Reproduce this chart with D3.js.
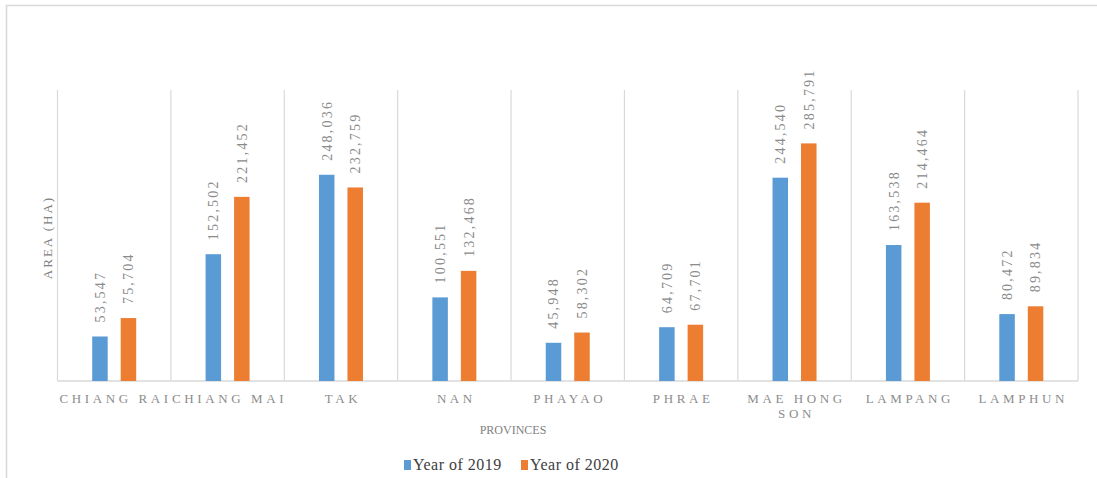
<!DOCTYPE html>
<html><head><meta charset="utf-8">
<script src="https://cdn.jsdelivr.net/npm/d3@7"></script>
<style>
html,body{margin:0;padding:0;background:#fff;}
svg{display:block;}
</style></head>
<body><svg id="chart" width="1097" height="478" font-family="'Liberation Serif','DejaVu Serif',serif"></svg>
<script>
const provinces = ["CHIANG RAI","CHIANG MAI","TAK","NAN","PHAYAO","PHRAE","MAE HONG SON","LAMPANG","LAMPHUN"];
const seriesNames = ["Year of 2019","Year of 2020"];
const values2019 = [53547,152502,248036,100551,45948,64709,244540,163538,80472];
const values2020 = [75704,221452,232759,132468,58302,67701,285791,214464,89834];
const yMax = 350000;
const colors = ["#5B9BD5","#ED7D31"];

const svg = d3.select("#chart");
const margin = {left:57.5, right:1078, top:90, bottom:381};

// outer frame
svg.append("path").attr("d","M6.5,480 L6.5,5.5 L1100,5.5")
  .attr("fill","none").attr("stroke","#d9d9d9").attr("stroke-width",1.6);

const x = d3.scaleBand().domain(provinces).range([margin.left, margin.right]).paddingInner(0).paddingOuter(0);
const x1 = d3.scaleBand().domain(seriesNames).range([0, x.bandwidth()]).paddingInner(0.456).paddingOuter(1.2175);
const y = d3.scaleLinear().domain([0, yMax]).range([margin.bottom, margin.top]);

// vertical category gridlines
const bounds = provinces.map(p => x(p)).concat([margin.right]);
svg.append("g").selectAll("line").data(bounds).join("line")
  .attr("x1", d => d).attr("x2", d => d)
  .attr("y1", y(yMax)).attr("y2", y(0))
  .attr("stroke","#d9d9d9").attr("stroke-width",1.2);

// bottom axis line
svg.append("line").attr("x1",margin.left).attr("x2",margin.right)
  .attr("y1",y(0)).attr("y2",y(0)).attr("stroke","#d9d9d9").attr("stroke-width",1.5);

const data = provinces.map((p,i) => ({p, vals:[values2019[i], values2020[i]]}));
const groups = svg.append("g").selectAll("g").data(data).join("g")
  .attr("transform", d => `translate(${x(d.p)},0)`);

groups.selectAll("rect").data(d => d.vals.map((v,j)=>({v, s:seriesNames[j], j})))
  .join("rect")
  .attr("x", d => x1(d.s)).attr("width", x1.bandwidth())
  .attr("y", d => y(d.v)).attr("height", d => y(0) - y(d.v))
  .attr("fill", d => colors[d.j]);

const fmt = d3.format(",");
groups.selectAll("text.lbl").data(d => d.vals.map((v,j)=>({v, s:seriesNames[j], j})))
  .join("text").attr("class","lbl")
  .attr("transform", d => `translate(${x1(d.s)+x1.bandwidth()/2},${y(d.v)-14}) rotate(-90)`)
  .attr("dy","0.35em")
  .attr("text-anchor","start")
  .attr("font-size",14).attr("letter-spacing",2.2)
  .attr("fill","#8a8a8a")
  .text(d => fmt(d.v));

// category labels
const catG = svg.append("g");
provinces.forEach((p,i) => {
  const words = p === "MAE HONG SON" ? ["MAE HONG","SON"] : [p];
  const t = catG.append("text")
    .attr("font-size",13).attr("letter-spacing",3.6).attr("fill","#8c8c8c")
    .attr("text-anchor", i === 0 ? "start" : "middle");
  const cx = i === 0 ? margin.left + 2 : x(p) + x.bandwidth()/2 + 2;
  words.forEach((w,k) => {
    t.append("tspan").attr("x", cx).attr("y", 403 + k*15).text(w);
  });
});

// axis titles
svg.append("text").attr("x",513).attr("y",434).attr("text-anchor","middle")
  .attr("font-size",12).attr("fill","#7f7f7f").text("PROVINCES");
svg.append("text").attr("transform",`translate(52,${(margin.top+margin.bottom)/2+2}) rotate(-90)`)
  .attr("text-anchor","middle").attr("font-size",13).attr("letter-spacing",2)
  .attr("fill","#7f7f7f").text("AREA (HA)");

// legend
const legX = [404, 521];
const leg = svg.append("g").selectAll("g").data(seriesNames).join("g")
  .attr("transform",(d,i)=>`translate(${legX[i]},0)`);
leg.append("rect").attr("x",0).attr("y",460).attr("width",7).attr("height",10)
  .attr("fill",(d,i)=>colors[i]);
leg.append("text").attr("x",9).attr("y",470).attr("font-size",16).attr("letter-spacing",0.5)
  .attr("fill","#404040").text(d=>d);
</script></body></html>
